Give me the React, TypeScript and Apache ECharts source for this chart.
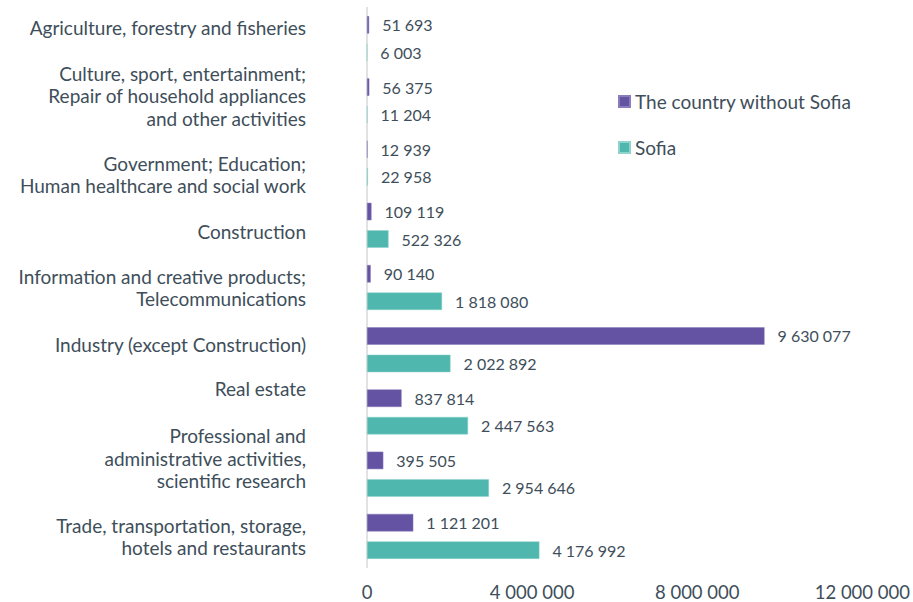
import React, { useEffect, useRef } from "react";
import * as echarts from "echarts";

const categories = [
  "Agriculture, forestry and fisheries",
  "Culture, sport, entertainment;\nRepair of household appliances\nand other activities",
  "Government; Education;\nHuman healthcare and social work",
  "Construction",
  "Information and creative products;\nTelecommunications",
  "Industry (except Construction)",
  "Real estate",
  "Professional and\nadministrative activities,\nscientific research",
  "Trade, transportation, storage,\nhotels and restaurants",
];
const countryWithoutSofia = [51693, 56375, 12939, 109119, 90140, 9630077, 837814, 395505, 1121201];
const sofia = [6003, 11204, 22958, 522326, 1818080, 2022892, 2447563, 2954646, 4176992];
const seriesNames = ["The country without Sofia", "Sofia"];
const xTicks = { min: 0, max: 12000000, interval: 4000000 };

// vertical shift (px, negative = up) of each category label; style only
const labelShift = [-11.5, -5, 11.5, 6, 0, -5, -23, -16, 0];

const TEXT = "#3e4e5a";
const FONT = "Lato";
const fmt = (v: number) => String(v).replace(/\B(?=(\d{3})+(?!\d))/g, " ");

const rich: Record<string, any> = {};
labelShift.forEach((s, i) => {
  if (s !== 0) rich["sp" + i] = { fontSize: 1, lineHeight: Math.abs(s) * 2 };
});

export default function App() {
  const ref = useRef<HTMLDivElement>(null);
  useEffect(() => {
    if (!ref.current) return;
    const chart = echarts.init(ref.current, undefined, { renderer: "svg" });
    chart.setOption({
      animation: false,
      textStyle: { fontFamily: FONT },
      grid: { left: 367, right: 48, top: 7.5, bottom: 34.5, containLabel: false },
      legend: {
        orient: "vertical",
        left: 618,
        top: 92,
        padding: 0,
        itemWidth: 11,
        itemHeight: 11,
        itemGap: 27,
        icon: "rect",
        textStyle: { color: TEXT, fontSize: 19, fontFamily: FONT },
        data: seriesNames,
      },
      xAxis: {
        type: "value",
        min: xTicks.min,
        max: xTicks.max,
        interval: xTicks.interval,
        axisLine: { show: false },
        axisTick: { show: false },
        splitLine: { show: false },
        axisLabel: {
          color: TEXT,
          fontSize: 18.5,
          fontFamily: FONT,
          margin: 15,
          formatter: (v: number) => fmt(v),
        },
      },
      yAxis: {
        type: "category",
        inverse: true,
        data: categories,
        axisLine: { show: true, lineStyle: { color: "#d9d9d9", width: 1.5 } },
        axisTick: { show: false },
        axisLabel: {
          interval: 0,
          color: TEXT,
          fontSize: 19,
          fontFamily: FONT,
          margin: 61,
          lineHeight: 22.5,
          align: "right",
          rich,
          formatter: (v: string, i: number) => {
            const s = labelShift[i];
            if (s < 0) return v + "\n{sp" + i + "| }";
            if (s > 0) return "{sp" + i + "| }\n" + v;
            return v;
          },
        },
      },
      series: [
        {
          name: seriesNames[0],
          type: "bar",
          data: countryWithoutSofia,
          barWidth: 17.5,
          barGap: "57%",
          itemStyle: { color: "#6452a2", borderColor: "#8a7cbb", borderWidth: 0.5 },
          label: {
            show: true,
            position: "right",
            distance: 13,
            color: TEXT,
            fontSize: 16,
            fontFamily: FONT,
            formatter: (p: any) => fmt(p.value),
          },
        },
        {
          name: seriesNames[1],
          type: "bar",
          data: sofia,
          barWidth: 17.5,
          barGap: "57%",
          itemStyle: { color: "#4fb7ae", borderColor: "#8fd3cd", borderWidth: 0.5 },
          label: {
            show: true,
            position: "right",
            distance: 13,
            color: TEXT,
            fontSize: 16,
            fontFamily: FONT,
            formatter: (p: any) => fmt(p.value),
          },
        },
      ],
    });
    return () => chart.dispose();
  }, []);
  return <div ref={ref} style={{ width: 913, height: 602, position: "absolute", left: 0, top: 0 }} />;
}
